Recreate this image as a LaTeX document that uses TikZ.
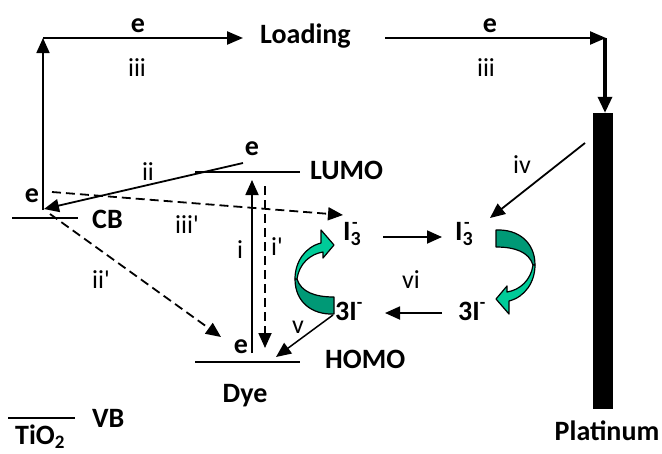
\documentclass[tikz,border=0pt]{standalone}
\usepackage{fontspec}
\setmainfont{Carlito}
\usetikzlibrary{arrows.meta}
\definecolor{glight}{RGB}{0,204,153}
\definecolor{gdark}{RGB}{0,153,118}
\newcommand{\Ithree}{I\rlap{\hspace{1.5pt}\raisebox{12pt}{\fontsize{18}{18}\selectfont -}}\raisebox{-5pt}{\fontsize{20}{20}\selectfont 3}}
\newcommand{\threeI}{3I\raisebox{12pt}{\fontsize{18}{18}\selectfont -}}
\newcommand{\greenarrow}{%
  \draw[ribbondark] (334,297) -- (334,314) .. controls (312,315) and (295,302) .. (295,279)
     -- (297,279) .. controls (301,292) and (315,297) .. (334,297) -- cycle;
  \draw[ribbonlight] (295,279) .. controls (295,262) and (305,247) .. (321,243)
     -- (321,230) -- (334,245) -- (323,258) -- (323,252)
     .. controls (310,254) and (299,264) .. (297,279) -- cycle;}
\begin{document}
\begin{tikzpicture}[x=1pt,y=-1pt,
  bl/.style={font=\fontsize{28}{30}\selectfont\bfseries, inner sep=0pt, anchor=base},
  rl/.style={font=\fontsize{26}{28}\selectfont, inner sep=0pt, anchor=base},
  conn/.style={line width=1.8pt, -{Triangle[length=15pt,width=13pt]}},
  dconn/.style={conn, dash pattern=on 9pt off 5pt},
  bigconn/.style={line width=2.3pt, -{Triangle[length=16pt,width=13pt]}},
  level/.style={line width=1.3pt},
  ribbonlight/.style={fill=glight, draw=black, line width=1.2pt, line join=round},
  ribbondark/.style={fill=gdark, draw=black, line width=1.2pt, line join=round},
]
\useasboundingbox (0,0) rectangle (662,453);

% coordinates
\coordinate (cCB) at (43,210);
\coordinate (cTL) at (43,38);
\coordinate (loadL) at (243,38);
\coordinate (loadR) at (385,38);
\coordinate (cTR) at (605,38);
\coordinate (ivS) at (585,143);
\coordinate (ivE) at (490,218);
\coordinate (iiS) at (243,163);
\coordinate (iiE) at (44,209);
\coordinate (iiipS) at (52,192);
\coordinate (iiipE) at (343,215);
\coordinate (iipS) at (50,214);
\coordinate (iipE) at (221,337);
\coordinate (iS) at (252,353);
\coordinate (iE) at (252,180);
\coordinate (ipS) at (265,186);
\coordinate (ipE) at (265,348);
\coordinate (vS) at (333,315);
\coordinate (vE) at (276,357);
\coordinate (tS) at (383,237);
\coordinate (tE) at (442,237);
\coordinate (bS) at (442,313);
\coordinate (bE) at (385,313);

% platinum electrode
\node (pt) [fill=black, inner sep=0pt, minimum width=20pt, minimum height=296pt] at (603,261) {};

% level lines
\draw[level] (195,172) coordinate (lumoA) -- (300,172) coordinate (lumoB);
\draw[level] (195,362) coordinate (homoA) -- (300,362) coordinate (homoB);
\draw[level] (12,218) coordinate (cbA) -- (78,218) coordinate (cbB);
\draw[level] (8,418) coordinate (vbA) -- (75,418) coordinate (vbB);

% labels
\node[bl] (eTL) at (138,32) {e};
\node[rl] (iiiTL) at (137,76) {iii};
\node[bl, anchor=base west] (load) at (260,43) {Loading};
\node[bl] (eTR) at (490,32) {e};
\node[rl] (iiiTR) at (486,76) {iii};
\node[rl] (iv) at (522,173) {iv};
\node[bl, anchor=base west] (lumo) at (310,179) {LUMO};
\node[bl] (eLUMO) at (252,155) {e};
\node[rl] (ii) at (148,180) {ii};
\node[bl] (eCB) at (32,202) {e};
\node[bl, anchor=base west] (cb) at (92,228) {CB};
\node[rl] (iiip) at (187,233) {iii\textquotesingle};
\node[rl] (il) at (240,258) {i};
\node[rl] (ipl) at (277,255) {i\textquotesingle};
\node[rl] (iip) at (101,288) {ii\textquotesingle};
\node[rl] (vl) at (298,333) {v};
\node[bl] (eHOMO) at (241,353) {e};
\node[bl, anchor=base west] (homo) at (325,368) {HOMO};
\node[bl] (dye) at (245,402) {Dye};
\node[bl, anchor=base west] (vb) at (92,427) {VB};
\node[bl, anchor=base west] (tio) at (15,444) {TiO\raisebox{-4pt}{\fontsize{19}{19}\selectfont 2}};
\node[bl] (plat) at (607,440) {Platinum};
\node[bl, anchor=base west] (I3L) at (343,240) {\Ithree};
\node[bl, anchor=base west] (I3R) at (455,240) {\Ithree};
\node[rl] (vi) at (411,288) {vi};
\node[bl, anchor=base west] (IL) at (335,320) {\threeI};
\node[bl, anchor=base west] (IR) at (458,320) {\threeI};

% external circuit
\draw[line width=1.8pt, -{Triangle[length=15pt,width=13pt]}] (cCB) -- (cTL);
\draw[bigconn] (cTL) -- (loadL);
\draw[bigconn, shorten >=-1pt] (loadR) -- (cTR);
\draw[line width=3.3pt, -{Triangle[length=16pt,width=14pt]}] (cTR) -- (cTR |- pt.north);

% internal processes
\draw[conn] (ivS) -- (ivE);
\draw[conn] (iiS) -- (iiE);
\draw[dconn] (iiipS) -- (iiipE);
\draw[dconn] (iipS) -- (iipE);
\draw[conn] (iS) -- (iE);
\draw[dconn] (ipS) -- (ipE);
\draw[conn, line width=1.5pt] (vS) -- (vE);
\draw[conn] (tS) -- (tE);
\draw[conn] (bS) -- (bE);

% green curved arrows
\greenarrow
\begin{scope}[rotate around={180:(415,272)}]
\greenarrow
\end{scope}
\end{tikzpicture}
\end{document}
